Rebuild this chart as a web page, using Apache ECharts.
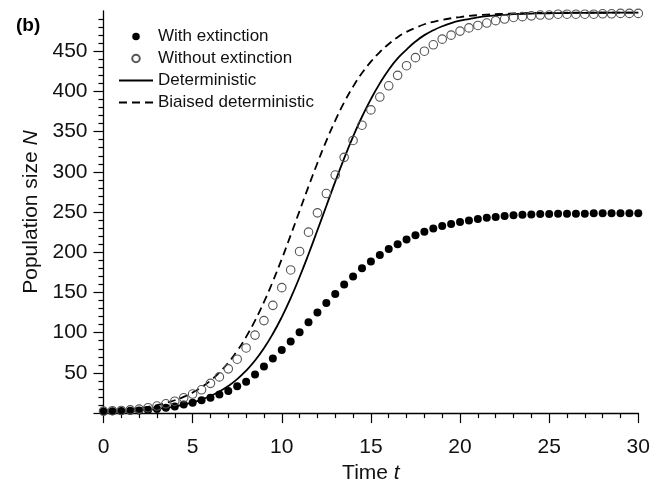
<!DOCTYPE html>
<html>
<head>
<meta charset="utf-8">
<script src="https://cdn.jsdelivr.net/npm/echarts@6/dist/echarts.min.js"></script>
<style>
  html, body { margin: 0; padding: 0; background: #fff; }
  #chart { width: 662px; height: 489px; }
</style>
</head>
<body>
<div id="chart"></div>
<script>
// time grid, every 0.5 unit
var times = [];
for (var k = 0; k <= 60; k++) times.push(k / 2);

// mean N, populations that went extinct counted as zero
var withExtinction = [2, 2.2, 2.5, 2.9, 3.3, 3.9, 5, 6.7, 8.3, 10.7, 12.8, 16, 19, 23, 27.4, 33.5,
    39, 48, 58, 68, 78.5, 89, 100.5, 113, 125, 137, 148, 160, 170, 180, 188.5, 196.5,
    204, 210, 216, 221, 225.5, 229.5, 232.5, 235, 237.5, 239.5, 241.5, 243, 244, 245,
    246, 246.5, 247, 247.5, 247.5, 248, 248, 248, 248, 248.5, 248.5, 248.5, 248.5, 248.5, 248.5];
// mean N over surviving populations only
var withoutExtinction = [2.5, 3, 3.3, 4, 5, 6.7, 8.8, 11.6, 14.8, 19, 23.7, 29, 37, 45, 55, 67,
    81, 97, 115, 134, 156, 178, 201, 225, 249, 273, 296, 318, 339, 358, 377, 393,
    407, 420, 432, 442, 450, 458, 465, 470, 475, 479, 482, 485, 488, 490,
    492, 493, 494, 495, 495, 496, 496, 496, 496, 496, 496.5, 496.5, 497, 497, 497];
var deterministic = [1.2, 1.5, 1.9, 2.4, 3.1, 4, 5, 6.4, 8.2, 10.4, 13.2, 16.7, 21.2, 26.8, 33.7, 42.2,
    52.7, 65.4, 80.6, 98.6, 119.4, 143, 169.2, 197.5, 227.3, 257.6, 287.8, 316.8, 343.8, 368.5, 390.4, 410,
    427, 441, 452, 462, 470, 476, 481, 485, 488, 490, 492, 493.5, 494.5, 495.3,
    496, 496.4, 496.8, 497, 497.2, 497.4, 497.5, 497.6, 497.7, 497.8, 497.8, 497.9, 497.9, 498, 498];
var biased = [2.3, 3, 3.8, 4.8, 6.1, 7.8, 9.9, 12.6, 16, 20.2, 25.5, 32.2, 40.4, 50.5, 62.7, 77.4,
    94.8, 115, 138.1, 163.8, 191.7, 221.2, 251.5, 281.8, 311, 338.6, 363.8, 386.3, 405.9, 422.8, 437, 449,
    459, 467.5, 474, 479, 483.5, 486.5, 489, 491, 492.5, 493.8, 494.8, 495.5, 496, 496.5,
    496.9, 497.2, 497.4, 497.6, 497.7, 497.8, 497.9, 498, 498, 498, 498, 498, 498, 498, 498];

var xTicks = [0, 5, 10, 15, 20, 25, 30];
var yTicks = [0, 50, 100, 150, 200, 250, 300, 350, 400, 450];
var yLabels = [50, 100, 150, 200, 250, 300, 350, 400, 450];

function pairs(ys) {
    return times.map(function (t, i) { return [t, ys[i]]; });
}

var font = "Liberation Sans, Arial, Helvetica, sans-serif";
var myChart = echarts.init(document.getElementById("chart"));

var option = {
    animation: false,
    backgroundColor: "#fff",
    title: {
        text: "(b)",
        left: 11,
        top: 11,
        textStyle: { fontFamily: font, fontSize: 19, fontWeight: "bold", color: "#000" }
    },
    legend: {
        orient: "vertical",
        left: 118,
        top: 28,
        padding: 0,
        itemGap: 5,
        itemWidth: 34,
        itemHeight: 7.5,
        textStyle: { fontFamily: font, fontSize: 17, color: "#111", lineHeight: 17 },
        data: [
            { name: "With extinction" },
            { name: "Without extinction" },
            { name: "Deterministic", itemStyle: { opacity: 0 } },
            { name: "Biaised deterministic", itemStyle: { opacity: 0 } }
        ]
    },
    grid: { left: 103.5, right: 23.7, top: 11, bottom: 67.5, containLabel: false },
    xAxis: {
        type: "value",
        min: 0,
        max: 30,
        interval: 5,
        name: "Time {i|t}",
        nameLocation: "middle",
        nameGap: 48,
        nameTextStyle: {
            fontFamily: font, fontSize: 21, color: "#111",
            rich: { i: { fontFamily: font, fontSize: 21, fontStyle: "italic", color: "#111" } }
        },
        splitLine: { show: false },
        axisLine: { show: true, onZero: false, lineStyle: { color: "#000", width: 1.3 } },
        axisTick: { show: true, inside: false, length: 10, lineStyle: { color: "#000", width: 1.2 }, customValues: xTicks },
        minorTick: { show: true, splitNumber: 5, length: 5, lineStyle: { color: "#000", width: 1.2 } },
        axisLabel: { margin: 24, fontFamily: font, fontSize: 21, color: "#111", customValues: xTicks }
    },
    yAxis: {
        type: "value",
        min: 0,
        max: 500,
        interval: 50,
        name: "Population size {i|N}",
        nameLocation: "middle",
        nameGap: 62,
        nameTextStyle: {
            fontFamily: font, fontSize: 21, color: "#111",
            rich: { i: { fontFamily: font, fontSize: 21, fontStyle: "italic", color: "#111" } }
        },
        splitLine: { show: false },
        axisLine: { show: true, onZero: false, lineStyle: { color: "#000", width: 1.3 } },
        axisTick: { show: true, inside: false, length: 10, lineStyle: { color: "#000", width: 1.2 }, customValues: yTicks },
        minorTick: { show: true, splitNumber: 5, length: 5, lineStyle: { color: "#000", width: 1.2 } },
        axisLabel: { margin: 16, fontFamily: font, fontSize: 21, color: "#111", customValues: yLabels }
    },
    series: [
        {
            name: "Deterministic",
            type: "line",
            data: pairs(deterministic),
            smooth: true,
            symbol: "none",
            lineStyle: { color: "#000", width: 1.8 },
            itemStyle: { color: "#000" },
            z: 2
        },
        {
            name: "Biaised deterministic",
            type: "line",
            data: pairs(biased),
            smooth: true,
            symbol: "none",
            lineStyle: { color: "#000", width: 1.8, type: [8, 5] },
            itemStyle: { color: "#000" },
            z: 2
        },
        {
            name: "With extinction",
            type: "scatter",
            data: pairs(withExtinction),
            symbol: "circle",
            symbolSize: 8,
            itemStyle: { color: "#000", opacity: 1 },
            z: 3
        },
        {
            name: "Without extinction",
            type: "scatter",
            data: pairs(withoutExtinction),
            symbol: "circle",
            symbolSize: 8.5,
            itemStyle: { color: "rgba(255,255,255,0)", borderColor: "#555", borderWidth: 1.1, opacity: 1 },
            z: 4
        }
    ]
};

myChart.setOption(option);
</script>
</body>
</html>
